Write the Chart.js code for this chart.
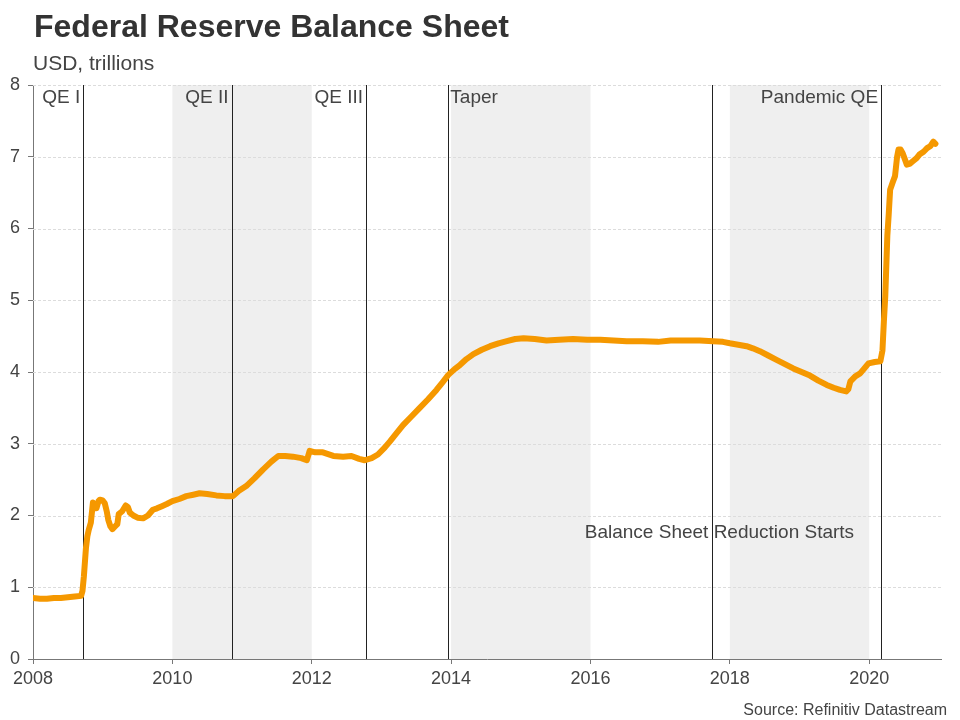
<!DOCTYPE html>
<html>
<head>
<meta charset="utf-8">
<script src="https://cdn.jsdelivr.net/npm/chart.js@4.4.1/dist/chart.umd.min.js"></script>
<style>
  html, body { margin: 0; padding: 0; background: #fff; }
  #wrap { width: 960px; height: 720px; }
</style>
</head>
<body>
<div id="wrap"><canvas id="actualChart" width="960" height="720"></canvas></div>
<script>
	// decimal years and balance sheet size, USD trillions
	var dates = [
		2008.00, 2008.10, 2008.20, 2008.30, 2008.40, 2008.50, 2008.60, 2008.69, 2008.71, 2008.73,
		2008.76, 2008.78, 2008.80, 2008.83, 2008.86, 2008.88, 2008.91, 2008.94, 2008.96, 2009.00,
		2009.03, 2009.06, 2009.08, 2009.11, 2009.14, 2009.18, 2009.21, 2009.23, 2009.28, 2009.33,
		2009.36, 2009.39, 2009.44, 2009.50, 2009.58, 2009.65, 2009.72, 2009.78, 2009.85, 2009.92,
		2010.00, 2010.10, 2010.20, 2010.30, 2010.39, 2010.50, 2010.63, 2010.75, 2010.87, 2010.95,
		2011.06, 2011.18, 2011.30, 2011.42, 2011.52, 2011.62, 2011.73, 2011.85, 2011.93, 2011.97,
		2012.05, 2012.16, 2012.31, 2012.45, 2012.57, 2012.68, 2012.76, 2012.86, 2012.95, 2013.05,
		2013.12, 2013.22, 2013.31, 2013.43, 2013.55, 2013.67, 2013.79, 2013.88, 2013.96, 2014.05,
		2014.13, 2014.22, 2014.32, 2014.44, 2014.56, 2014.68, 2014.80, 2014.92, 2015.04, 2015.20,
		2015.37, 2015.55, 2015.75, 2015.95, 2016.14, 2016.33, 2016.52, 2016.75, 2016.97, 2017.15,
		2017.33, 2017.57, 2017.76, 2017.90, 2018.00, 2018.12, 2018.24, 2018.33, 2018.43, 2018.55,
		2018.67, 2018.79, 2018.91, 2019.03, 2019.15, 2019.27, 2019.39, 2019.49, 2019.58, 2019.67,
		2019.70, 2019.73, 2019.80, 2019.87, 2019.93, 2019.99, 2020.08, 2020.16, 2020.19, 2020.21,
		2020.23, 2020.26, 2020.28, 2020.30, 2020.34, 2020.37, 2020.40, 2020.42, 2020.45, 2020.48,
		2020.54, 2020.58, 2020.63, 2020.68, 2020.72, 2020.78, 2020.83, 2020.88, 2020.92, 2020.95
	];
	var values = [
		0.85, 0.84, 0.84, 0.85, 0.85, 0.86, 0.87, 0.88, 0.95, 1.15,
		1.55, 1.71, 1.80, 1.90, 2.18, 2.10, 2.10, 2.20, 2.22, 2.21,
		2.17, 2.05, 1.94, 1.85, 1.81, 1.85, 1.88, 2.02, 2.06, 2.14,
		2.12, 2.04, 2.00, 1.97, 1.96, 2.00, 2.08, 2.10, 2.13, 2.16,
		2.20, 2.23, 2.27, 2.29, 2.31, 2.30, 2.28, 2.27, 2.27, 2.34,
		2.41, 2.52, 2.64, 2.75, 2.83, 2.83, 2.82, 2.80, 2.77, 2.90,
		2.88, 2.88, 2.83, 2.82, 2.83, 2.79, 2.77, 2.80, 2.85, 2.95,
		3.03, 3.15, 3.26, 3.38, 3.50, 3.62, 3.75, 3.86, 3.96, 4.04,
		4.10, 4.18, 4.25, 4.31, 4.36, 4.40, 4.43, 4.46, 4.47, 4.46,
		4.44, 4.45, 4.46, 4.45, 4.45, 4.44, 4.43, 4.43, 4.42, 4.44,
		4.44, 4.44, 4.43, 4.42, 4.40, 4.38, 4.36, 4.33, 4.29, 4.23,
		4.17, 4.11, 4.05, 4.00, 3.95, 3.88, 3.82, 3.78, 3.75, 3.73,
		3.76, 3.87, 3.94, 3.98, 4.05, 4.12, 4.14, 4.15, 4.30, 4.70,
		5.05, 5.90, 6.20, 6.54, 6.65, 6.73, 7.00, 7.10, 7.10, 7.05,
		6.89, 6.90, 6.94, 6.98, 7.03, 7.07, 7.12, 7.15, 7.21, 7.18
	];

	// grey shaded periods
	var bandStart = [2010, 2014, 2018];
	var bandEnd = [2012, 2016, 2020];

	// policy events: vertical lines with labels
	var eventDates = [2008.72, 2010.85, 2012.78, 2013.96, 2017.75, 2020.17];
	var eventLabels = ['QE I', 'QE II', 'QE III', 'Taper', 'Balance Sheet Reduction Starts', 'Pandemic QE'];
	var eventAlign = ['right', 'right', 'right', 'left', 'center', 'right'];
	var eventLabelY = [8, 8, 8, 8, 1.79, 8];

	var yTicks = [0, 1, 2, 3, 4, 5, 6, 7, 8];
	var xTicks = [2008, 2010, 2012, 2014, 2016, 2018, 2020];

	var FONT = '"Liberation Sans", Arial, Helvetica, sans-serif';
	var cxc = document.getElementById('actualChart');

	var points = dates.map(function(d, i){ return {x: d, y: values[i]}; });

	var bandsPlugin = {
		id: 'bands',
		beforeDatasetsDraw: function(chart){
			let ctx = chart.ctx, xs = chart.scales.x, area = chart.chartArea;
			ctx.save();
			ctx.fillStyle = '#efefef';
			for (let i = 0; i < bandStart.length; i++){
				let x0 = xs.getPixelForValue(bandStart[i]);
				let x1 = xs.getPixelForValue(bandEnd[i]);
				ctx.fillRect(x0, area.top, x1 - x0, area.bottom - area.top);
			}
			// dashed horizontal grid, drawn over the bands
			let ys = chart.scales.y;
			ctx.strokeStyle = '#dcdcdc';
			ctx.lineWidth = 1;
			ctx.setLineDash([3, 2]);
			yTicks.forEach(function(t){
				if (t === 0) return;
				let y = Math.round(ys.getPixelForValue(t)) + 0.5;
				ctx.beginPath();
				ctx.moveTo(area.left, y);
				ctx.lineTo(area.right, y);
				ctx.stroke();
			});
			ctx.setLineDash([]);
			ctx.strokeStyle = '#222';
			eventDates.forEach(function(d){
				let x = Math.round(xs.getPixelForValue(d)) + 0.5;
				ctx.beginPath();
				ctx.moveTo(x, area.top);
				ctx.lineTo(x, area.bottom);
				ctx.stroke();
			});
			ctx.restore();
		}
	};

	var labelsPlugin = {
		id: 'labels',
		afterDraw: function(chart){
			let ctx = chart.ctx, xs = chart.scales.x, ys = chart.scales.y;
			ctx.save();
			ctx.fillStyle = '#444';
			ctx.font = '19px ' + FONT;
			ctx.textBaseline = 'middle';
			for (let i = 0; i < eventLabels.length; i++){
				let x = xs.getPixelForValue(eventDates[i]);
				let y = ys.getPixelForValue(eventLabelY[i]) + 13;
				ctx.textAlign = eventAlign[i];
				if (eventAlign[i] === 'right') x -= 3;
				else if (eventAlign[i] === 'left') x += 2;
				else { x += 7; y = ys.getPixelForValue(eventLabelY[i]) + 2; }
				ctx.fillText(eventLabels[i], x, y);
			}

			// title, subtitle, source
			ctx.textAlign = 'left';
			ctx.textBaseline = 'alphabetic';
			ctx.fillStyle = '#333';
			ctx.font = 'bold 32px ' + FONT;
			ctx.fillText('Federal Reserve Balance Sheet', 34, 37);
			ctx.fillStyle = '#444';
			ctx.font = '21px ' + FONT;
			ctx.fillText('USD, trillions', 33, 70);
			ctx.textAlign = 'right';
			ctx.font = '16px ' + FONT;
			ctx.fillText('Source: Refinitiv Datastream', 947, 715);
			ctx.restore();
		}
	};

	var myChart = new Chart(cxc, {
		type: 'line',
		data: {
			datasets: [{
				data: points,
				borderColor: '#f59800',
				borderWidth: 6,
				borderJoinStyle: 'round',
				borderCapStyle: 'round',
				pointRadius: 0,
				tension: 0,
				fill: false
			}]
		},
		options: {
			responsive: false,
			animation: false,
			devicePixelRatio: 1,
			layout: { padding: { top: 85, right: 19, left: 0, bottom: 0 } },
			plugins: {
				legend: { display: false },
				tooltip: { enabled: false }
			},
			scales: {
				x: {
					type: 'linear',
					min: 2008,
					max: 2021.03,
					afterFit: function(s){ s.height = 61; },
					afterBuildTicks: function(s){ s.ticks = xTicks.map(function(v){ return {value: v}; }); },
					ticks: {
						color: '#444',
						font: { size: 18, family: FONT },
						padding: 4,
						maxRotation: 0,
						autoSkip: false,
						callback: function(v){ return String(v); }
					},
					grid: {
						drawOnChartArea: false,
						drawTicks: true,
						tickLength: 5,
						tickColor: '#777'
					},
					border: { color: '#777', width: 1 }
				},
				y: {
					min: 0,
					max: 8,
					afterFit: function(s){ s.width = 33; },
					afterBuildTicks: function(s){ s.ticks = yTicks.map(function(v){ return {value: v}; }); },
					ticks: {
						color: '#444',
						font: { size: 18, family: FONT },
						padding: 8,
						autoSkip: false
					},
					grid: {
						drawOnChartArea: false,
						drawTicks: true,
						tickLength: 5,
						tickColor: '#777'
					},
					border: { color: '#777', width: 1 }
				}
			}
		},
		plugins: [bandsPlugin, labelsPlugin]
	});
</script>
</body>
</html>
